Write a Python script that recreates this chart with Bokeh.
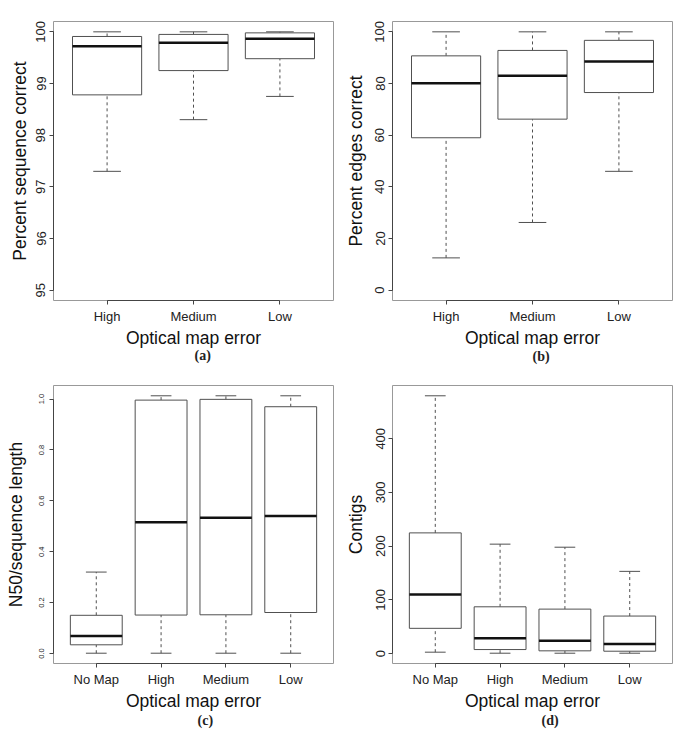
from bokeh.plotting import figure
from bokeh.layouts import gridplot
from bokeh.models import FixedTicker, Range1d, Title
from bokeh.embed import file_html
from bokeh.resources import INLINE

# ---------------- data ----------------
cats3 = ["High", "Medium", "Low"]
cats4 = ["No Map", "High", "Medium", "Low"]

# (a) Percent sequence correct
a_low = [97.30, 98.30, 98.75]
a_q1 = [98.78, 99.25, 99.48]
a_med = [99.72, 99.79, 99.865]
a_q3 = [99.91, 99.95, 99.98]
a_high = [100.0, 100.0, 100.0]
a_ticks = [95, 96, 97, 98, 99, 100]
a_tick_labels = ["95", "96", "97", "98", "99", "100"]

# (b) Percent edges correct
b_low = [12.5, 26.2, 46.0]
b_q1 = [59.0, 66.2, 76.5]
b_med = [80.1, 83.0, 88.5]
b_q3 = [90.7, 92.8, 96.7]
b_high = [100.0, 100.0, 100.0]
b_ticks = [0, 20, 40, 60, 80, 100]
b_tick_labels = ["0", "20", "40", "60", "80", "100"]

# (c) N50/sequence length
c_low = [0.001, 0.001, 0.001, 0.001]
c_q1 = [0.034, 0.151, 0.152, 0.161]
c_med = [0.069, 0.516, 0.534, 0.540]
c_q3 = [0.150, 0.996, 0.999, 0.970]
c_high = [0.320, 1.013, 1.013, 1.013]
c_ticks = [0.0, 0.2, 0.4, 0.6, 0.8, 1.0]
c_tick_labels = ["0.0", "0.2", "0.4", "0.6", "0.8", "1.0"]

# (d) Contigs
d_low = [2.5, 0.6, 0.6, 0.6]
d_q1 = [46.9, 7.4, 5.0, 4.3]
d_med = [109.9, 28.4, 24.0, 17.9]
d_q3 = [224.7, 87.0, 82.7, 69.8]
d_high = [480.0, 203.7, 198.0, 153.0]
d_ticks = [0, 100, 200, 300, 400]
d_tick_labels = ["0", "100", "200", "300", "400"]

SANS = "Liberation Sans"
SERIF = "Liberation Serif"
BOXW = 0.8
STAPLE = 0.4
LINE = "#505050"


def panel(cats, low, q1, med, q3, high, ylim, ticks, tick_labels, ylabel, caption,
          width, height, bl, br, bt, bb, ytick_size, ylab_standoff, ytick_standoff,
          cap_offset, cap_standoff):
    n = len(cats)
    xs = list(range(1, n + 1))
    ext = 0.04 * n
    span = ylim[1] - ylim[0]
    p = figure(width=width, height=height, output_backend="svg", toolbar_location=None,
               x_range=Range1d(0.5 - ext, n + 0.5 + ext),
               y_range=Range1d(ylim[0] - 0.04 * span, ylim[1] + 0.04 * span),
               min_border_left=bl, min_border_right=br, min_border_top=bt,
               min_border_bottom=bb, background_fill_color="white",
               border_fill_color="white")
    p.xgrid.visible = False
    p.ygrid.visible = False
    p.outline_line_color = "#999999"
    p.outline_line_width = 1

    # whiskers
    p.segment(x0=xs, y0=q3, x1=xs, y1=high, line_color=LINE, line_width=1,
              line_dash="3 3")
    p.segment(x0=xs, y0=low, x1=xs, y1=q1, line_color=LINE, line_width=1,
              line_dash="3 3")
    # staples
    sx0 = [x - BOXW * STAPLE / 2 for x in xs]
    sx1 = [x + BOXW * STAPLE / 2 for x in xs]
    p.segment(x0=sx0, y0=high, x1=sx1, y1=high, line_color=LINE, line_width=1)
    p.segment(x0=sx0, y0=low, x1=sx1, y1=low, line_color=LINE, line_width=1)
    # boxes
    p.vbar(x=xs, width=BOXW, bottom=q1, top=q3, fill_color="white",
           line_color=LINE, line_width=1)
    # medians
    mx0 = [x - BOXW / 2 for x in xs]
    mx1 = [x + BOXW / 2 for x in xs]
    p.segment(x0=mx0, y0=med, x1=mx1, y1=med, line_color="#111111", line_width=2.5)

    # x axis
    xa = p.xaxis[0]
    xa.ticker = FixedTicker(ticks=xs)
    xa.major_label_overrides = {x: c for x, c in zip(xs, cats)}
    xa.bounds = (1, n)
    xa.axis_label = "Optical map error"
    # y axis
    ya = p.yaxis[0]
    ya.ticker = FixedTicker(ticks=ticks)
    ya.major_label_overrides = {t: l for t, l in zip(ticks, tick_labels)}
    ya.bounds = (ticks[0], ticks[-1])
    ya.axis_label = ylabel
    ya.major_label_orientation = "vertical"
    ya.major_label_text_font_size = ytick_size
    ya.axis_label_standoff = ylab_standoff
    ya.major_label_standoff = ytick_standoff
    xa.major_label_text_font_size = "13px"
    xa.major_label_standoff = 4
    xa.axis_label_standoff = 1

    for ax in (xa, ya):
        ax.minor_tick_line_color = None
        ax.major_tick_in = 0
        ax.major_tick_out = 4
        ax.major_tick_line_color = "#444444"
        ax.axis_line_color = "#444444"
        ax.major_label_text_font = SANS
        ax.major_label_text_color = "#222222"
        ax.axis_label_text_font = SANS
        ax.axis_label_text_font_size = "17.5px"
        ax.axis_label_text_font_style = "normal"
        ax.axis_label_text_color = "#111111"

    p.add_layout(Title(text=caption, align="left", offset=cap_offset, text_font=SERIF,
                       text_font_size="14px", text_font_style="bold",
                       vertical_align="top", text_color="#222222",
                       standoff=cap_standoff), "below")
    return p


pa = panel(cats3, a_low, a_q1, a_med, a_q3, a_high, (95, 100), a_ticks, a_tick_labels,
           "Percent sequence correct", "(a)", 342, 370, 53, 9, 21, 70,
           "13px", 4, 4, 141, -5)
pb = panel(cats3, b_low, b_q1, b_med, b_q3, b_high, (0, 100), b_ticks, b_tick_labels,
           "Percent edges correct", "(b)", 343, 370, 50, 13, 21, 70,
           "13px", 7, 4, 140, -4)
pc = panel(cats4, c_low, c_q1, c_med, c_q3, c_high, (0.001, 1.013), c_ticks,
           c_tick_labels, "N50/sequence length", "(c)", 342, 365, 53, 9, 15, 70,
           "7.5px", 11, 5, 144, -2)
pd = panel(cats4, d_low, d_q1, d_med, d_q3, d_high, (0.6, 480.0), d_ticks,
           d_tick_labels, "Contigs", "(d)", 343, 365, 50, 13, 13, 72,
           "13px", 8, 3, 149, -2)

grid = gridplot([[pa, pb], [pc, pd]], toolbar_location=None)

open("out.html", "w").write(file_html(grid, INLINE))
